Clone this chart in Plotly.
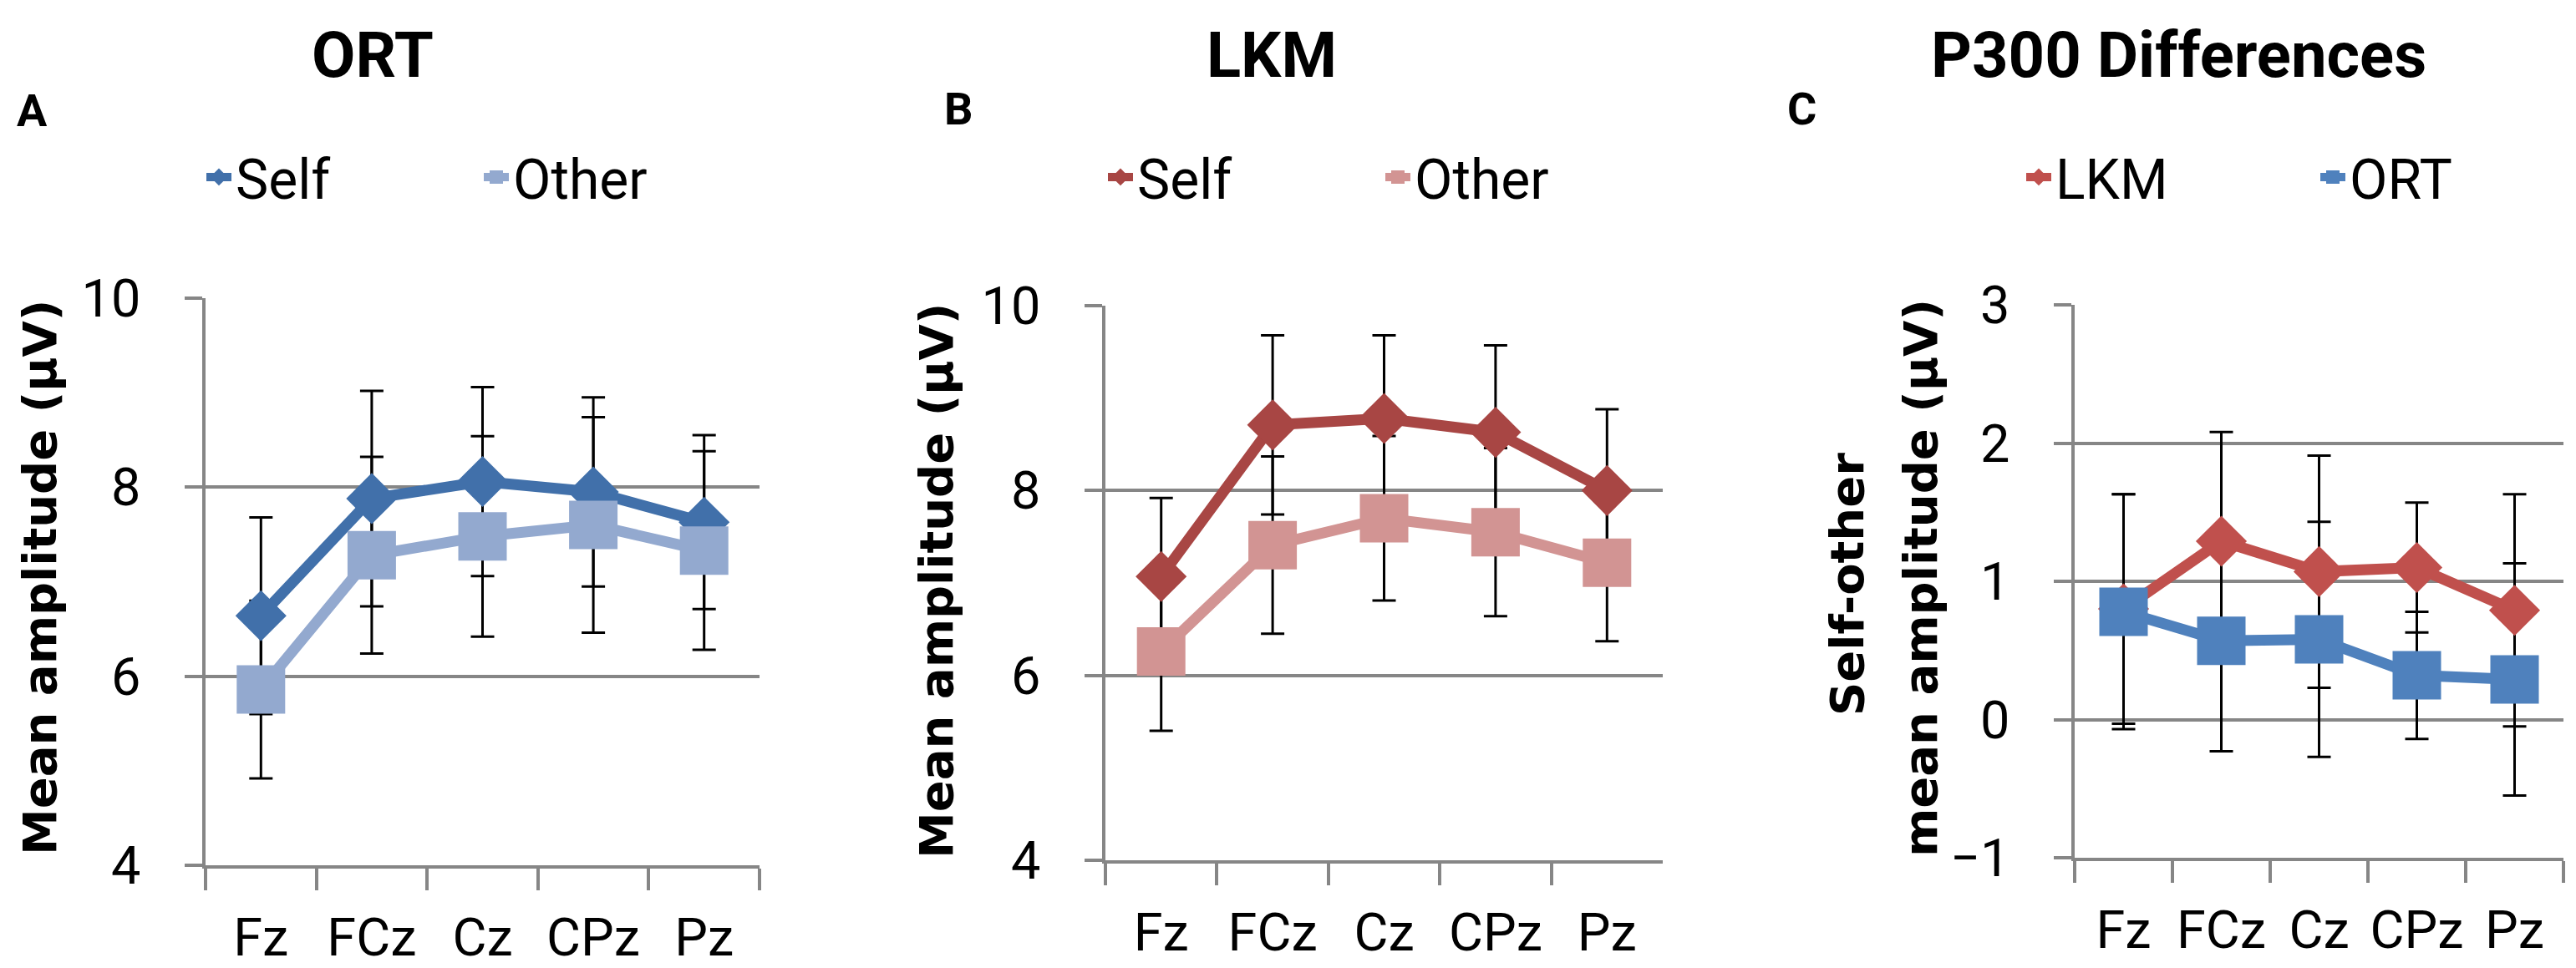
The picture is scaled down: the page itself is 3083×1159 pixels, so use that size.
import plotly.graph_objects as go

# === 数据 ===
electrodes = ['Fz', 'FCz', 'Cz', 'CPz', 'Pz']

# A: ORT
ort_self = [6.64, 7.88, 8.06, 7.95, 7.63]
ort_self_err = [1.04, 1.14, 1.00, 1.00, 0.92]
ort_other = [5.86, 7.28, 7.48, 7.60, 7.33]
ort_other_err = [0.94, 1.04, 1.06, 1.14, 1.05]

# B: LKM
lkm_self = [7.07, 8.71, 8.78, 8.63, 8.00]
lkm_self_err = [0.85, 0.97, 0.90, 0.94, 0.88]
lkm_other = [6.26, 7.41, 7.70, 7.55, 7.22]
lkm_other_err = [0.86, 0.96, 0.89, 0.91, 0.85]

# C: self-other differences
diff_lkm = [0.80, 1.29, 1.07, 1.10, 0.79]
diff_lkm_err = [0.83, 0.79, 0.84, 0.47, 0.84]
diff_ort = [0.78, 0.57, 0.58, 0.32, 0.29]
diff_ort_err = [0.85, 0.80, 0.85, 0.46, 0.84]

W, H = 3083, 1159
OFF = 8  # page body margin shifts everything by 8px
TICK_FONT = dict(family='Roboto, Liberation Sans, sans-serif', size=63, color='black')
GRID = '#868686'


def px(x):
    return (x - OFF) / W


def py(y):
    return 1 - (y - OFF) / H


fig = go.Figure()

panels = [
    # (axis suffix, legend, [(name, values, errors, color, symbol)])
    ('', 'legend', [('Self', ort_self, ort_self_err, '#4170AA', 'diamond'),
                    ('Other', ort_other, ort_other_err, '#93A9CF', 'square')]),
    ('2', 'legend2', [('Self', lkm_self, lkm_self_err, '#A84644', 'diamond'),
                      ('Other', lkm_other, lkm_other_err, '#D29493', 'square')]),
    ('3', 'legend3', [('LKM', diff_lkm, diff_lkm_err, '#C0504D', 'diamond'),
                      ('ORT', diff_ort, diff_ort_err, '#4F81BD', 'square')]),
]

for sfx, leg, series in panels:
    # error bars first so that the markers sit on top
    for name, vals, errs, color, sym in series:
        fig.add_trace(go.Scatter(
            x=electrodes, y=vals, mode='markers',
            marker=dict(size=1, color='rgba(0,0,0,0)'),
            error_y=dict(type='data', array=errs, color='black', thickness=3, width=14),
            showlegend=False, hoverinfo='skip',
            xaxis='x' + sfx, yaxis='y' + sfx))
    for name, vals, errs, color, sym in series:
        fig.add_trace(go.Scatter(
            x=electrodes, y=vals, mode='lines+markers', name=name,
            line=dict(color=color, width=13),
            marker=dict(symbol=sym, size=47 if sym == 'diamond' else 58, color=color,
                        line=dict(width=0)),
            legend=leg, xaxis='x' + sfx, yaxis='y' + sfx))

# === 坐标轴 ===
domains = {
    '': ([246, 909], [357, 1036], [4, 10], 2),
    '2': ([1323, 1990], [366, 1030], [4, 10], 2),
    '3': ([2483, 3068], [365, 1027], [-1, 3], 1),
}

layout_axes = {}
for sfx, (xd, yd, yr, dt) in domains.items():
    layout_axes['xaxis' + sfx] = dict(
        domain=[px(xd[0]), px(xd[1])], anchor='y' + sfx, automargin=False,
        type='category', range=[-0.5, 4.5], tickson='boundaries',
        ticks='outside', ticklen=26, tickwidth=4, tickcolor=GRID,
        showline=True, linecolor=GRID, linewidth=4, showgrid=False,
        tickangle=0, tickfont=TICK_FONT, ticklabelstandoff=28, fixedrange=True)
    layout_axes['yaxis' + sfx] = dict(
        domain=[py(yd[1]), py(yd[0])], anchor='x' + sfx, automargin=False,
        range=yr, dtick=dt, tick0=0,
        ticks='outside', ticklen=21, tickwidth=4, tickcolor=GRID,
        showline=True, linecolor=GRID, linewidth=4,
        showgrid=True, gridcolor=GRID, gridwidth=4, zeroline=False,
        tickfont=TICK_FONT, ticklabelstandoff=40, fixedrange=True)

legend_style = dict(orientation='h', xanchor='left', yanchor='middle', y=py(212),
                    font=dict(family='Roboto, Liberation Sans, sans-serif', size=66, color='black'),
                    entrywidthmode='pixels',
                    bgcolor='rgba(0,0,0,0)', itemclick=False, itemdoubleclick=False)

# === 标题 / 面板字母 / y 轴标题 ===
annotations = []
for text, x in [('ORT', 446), ('LKM', 1522), ('P300 Differences', 2607)]:
    annotations.append(dict(text=text, x=px(x), y=py(66), xref='paper', yref='paper',
                            xanchor='center', yanchor='middle', showarrow=False,
                            font=dict(family='Roboto, sans-serif', size=76, color='black', weight='bold')))
for text, x, y in [('A', 38, 132), ('B', 1147, 130), ('C', 2156, 130)]:
    annotations.append(dict(text=text, x=px(x), y=py(y), xref='paper', yref='paper',
                            xanchor='center', yanchor='middle', showarrow=False,
                            font=dict(family='Roboto, sans-serif', size=54, color='black', weight='bold')))
for text, x, y in [('Mean amplitude (μV)', 47, 692), ('Mean amplitude (μV)', 1120, 696),
                   ('Self-other', 2210, 700), ('mean amplitude (μV)', 2298, 692)]:
    annotations.append(dict(text=text, x=px(x), y=py(y), xref='paper', yref='paper',
                            xanchor='center', yanchor='middle', showarrow=False, textangle=-90,
                            font=dict(family='DejaVu Sans, sans-serif', size=56, color='black', weight='bold')))

fig.update_layout(
    width=W, height=H,
    margin=dict(l=0, r=0, t=0, b=0, autoexpand=False),
    paper_bgcolor='white', plot_bgcolor='white',
    legend=dict(legend_style, x=px(287 - 45), entrywidth=287),
    legend2=dict(legend_style, x=px(1366 - 45), entrywidth=287),
    legend3=dict(legend_style, x=px(2465 - 45), entrywidth=307),
    annotations=annotations,
    **layout_axes,
)

fig.write_html('out.html')
